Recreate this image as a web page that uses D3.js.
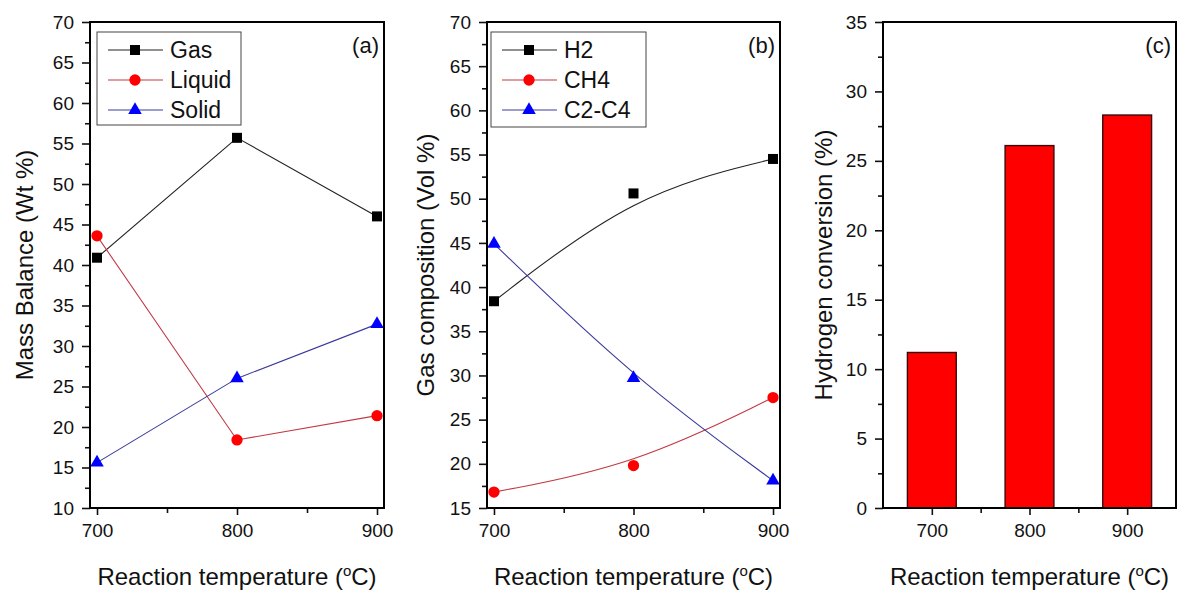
<!DOCTYPE html>
<html>
<head>
<meta charset="utf-8">
<script src="https://cdn.jsdelivr.net/npm/d3@7"></script>
<style>
  html, body { margin: 0; padding: 0; background: #fff; }
  svg text { font-family: "Liberation Sans", Arial, sans-serif; fill: #111; }
</style>
</head>
<body>
<svg id="chart" width="1178" height="593"></svg>
<script>
// ---------------- DATA ----------------
const temperatures = [700, 800, 900];
const gasWt = [40.9, 55.7, 46.0];
const liquidWt = [43.6, 18.4, 21.4];
const solidWt = [15.6, 26.0, 32.7];
const h2Vol = [38.4, 50.6, 54.5];
const ch4Vol = [16.8, 19.8, 27.5];
const c2c4Vol = [44.9, 29.7, 18.1];
const h2Conversion = [11.2, 26.1, 28.3];
const xTickLabels = ["700", "800", "900"];
const xMinorTicks = [750, 850];
const yTicksA = [10, 15, 20, 25, 30, 35, 40, 45, 50, 55, 60, 65, 70];
const yTicksB = [15, 20, 25, 30, 35, 40, 45, 50, 55, 60, 65, 70];
const yTicksC = [0, 5, 10, 15, 20, 25, 30, 35];
const legendA = ["Gas", "Liquid", "Solid"];
const legendB = ["H2", "CH4", "C2-C4"];

// ---------------- DRAW ----------------
const svg = d3.select("#chart");
const FONT_TICK = 19, FONT_TITLE = 24, FONT_LEGEND = 23, FONT_TAG = 22;

const styles = [
  { marker: d3.symbolSquare, size: 100, fill: "#000", line: "#222" },
  { marker: d3.symbolCircle, size: 100, fill: "#ff0000", line: "#c23a44" },
  { marker: d3.symbolTriangle, size: 80, fill: "#0000ff", line: "#3a3a9c" }
];

function minorsOf(ticks) {
  const out = [];
  for (let i = 0; i < ticks.length - 1; i++) out.push((ticks[i] + ticks[i + 1]) / 2);
  return out;
}

function panel(cfg) {
  const g = svg.append("g");
  const x = d3.scaleLinear().domain(cfg.xDomain).range([cfg.left, cfg.right]);
  const y = d3.scaleLinear().domain([cfg.yTicks[0], cfg.yTicks[cfg.yTicks.length - 1]]).range([cfg.bottom, cfg.top]);

  // content first (so frame sits on top)
  const content = g.append("g");

  // y axis major
  const yAx = g.append("g").attr("transform", `translate(${cfg.left},0)`)
    .call(d3.axisLeft(y).tickValues(cfg.yTicks).tickSize(8).tickPadding(8).tickSizeOuter(0).tickFormat(d3.format("d")));
  yAx.select(".domain").remove();
  yAx.selectAll("line").attr("stroke", "#111").attr("stroke-width", 1.6);
  yAx.selectAll("text").style("font-size", FONT_TICK + "px").style("font-family", '"Liberation Sans", Arial, sans-serif').attr("fill", "#111");
  const yMin = g.append("g").attr("transform", `translate(${cfg.left},0)`)
    .call(d3.axisLeft(y).tickValues(minorsOf(cfg.yTicks)).tickSize(5).tickFormat(""));
  yMin.select(".domain").remove();
  yMin.selectAll("line").attr("stroke", "#111").attr("stroke-width", 1.6);

  // x axis major
  const xAx = g.append("g").attr("transform", `translate(0,${cfg.bottom})`)
    .call(d3.axisBottom(x).tickValues(temperatures).tickSize(7).tickPadding(9).tickSizeOuter(0)
      .tickFormat((d, i) => xTickLabels[i]));
  xAx.select(".domain").remove();
  xAx.selectAll("line").attr("stroke", "#111").attr("stroke-width", 1.6);
  xAx.selectAll("text").style("font-size", FONT_TICK + "px").style("font-family", '"Liberation Sans", Arial, sans-serif').attr("fill", "#111");
  const xMin = g.append("g").attr("transform", `translate(0,${cfg.bottom})`)
    .call(d3.axisBottom(x).tickValues(xMinorTicks).tickSize(5).tickFormat(""));
  xMin.select(".domain").remove();
  xMin.selectAll("line").attr("stroke", "#111").attr("stroke-width", 1.6);

  // frame
  g.append("rect").attr("x", cfg.left).attr("y", cfg.top)
    .attr("width", cfg.right - cfg.left).attr("height", cfg.bottom - cfg.top)
    .attr("fill", "none").attr("stroke", "#000").attr("stroke-width", 2);

  // y title
  g.append("text")
    .attr("transform", `translate(${cfg.yTitleX},${(cfg.top + cfg.bottom) / 2}) rotate(-90)`)
    .attr("text-anchor", "middle").style("font-size", FONT_TITLE + "px")
    .text(cfg.yTitle);

  // x title
  const xt = g.append("text")
    .attr("x", (cfg.left + cfg.right) / 2).attr("y", 585)
    .attr("text-anchor", "middle").style("font-size", FONT_TITLE + "px");
  xt.append("tspan").text("Reaction temperature (");
  xt.append("tspan").attr("dy", -9).style("font-size", "15px").text("o");
  xt.append("tspan").attr("dy", 9).text("C)");

  // panel tag
  g.append("text").attr("x", cfg.right - 5).attr("y", 53)
    .attr("text-anchor", "end").style("font-size", FONT_TAG + "px").text(cfg.tag);

  return { g: content, x, y };
}

function drawSeries(p, values, st, curve) {
  const pts = temperatures.map((t, i) => [t, values[i]]);
  const line = d3.line().x(d => p.x(d[0])).y(d => p.y(d[1])).curve(curve);
  p.g.append("path").attr("d", line(pts)).attr("fill", "none")
    .attr("stroke", st.line).attr("stroke-width", 1.1);
  p.g.selectAll(null).data(pts).enter().append("path")
    .attr("transform", d => `translate(${p.x(d[0])},${p.y(d[1])})`)
    .attr("d", d3.symbol().type(st.marker).size(st.size)())
    .attr("fill", st.fill);
}

function drawLegend(p, names, box) {
  const lg = p.g.append("g");
  lg.append("rect").attr("x", box.x).attr("y", box.y).attr("width", box.w).attr("height", box.h)
    .attr("fill", "#fff").attr("stroke", "#444").attr("stroke-width", 1);
  names.forEach((n, i) => {
    const cy = box.y + 18 + i * 30;
    const st = styles[i];
    lg.append("line").attr("x1", box.x + 11).attr("x2", box.x + 66).attr("y1", cy).attr("y2", cy)
      .attr("stroke", st.line).attr("stroke-width", 1.1);
    lg.append("path").attr("transform", `translate(${box.x + 38},${cy})`)
      .attr("d", d3.symbol().type(st.marker).size(st.size)()).attr("fill", st.fill);
    lg.append("text").attr("x", box.x + 73).attr("y", cy).attr("dy", "0.36em")
      .style("font-size", FONT_LEGEND + "px").text(n);
  });
}

// Panel (a)
const pa = panel({ left: 90, right: 384, top: 22, bottom: 508, xDomain: [695, 905],
  yTicks: yTicksA, yTitle: "Mass Balance (Wt %)", yTitleX: 33, tag: "(a)" });
[gasWt, liquidWt, solidWt].forEach((v, i) => drawSeries(pa, v, styles[i], d3.curveLinear));
drawLegend(pa, legendA, { x: 97, y: 32, w: 144, h: 93 });

// Panel (b)
const pb = panel({ left: 487, right: 780, top: 22, bottom: 508, xDomain: [695, 905],
  yTicks: yTicksB, yTitle: "Gas composition (Vol %)", yTitleX: 434, tag: "(b)" });
[h2Vol, ch4Vol, c2c4Vol].forEach((v, i) => drawSeries(pb, v, styles[i], d3.curveBasis));
drawLegend(pb, legendB, { x: 491, y: 32, w: 155, h: 95 });

// Panel (c)
const pc = panel({ left: 883, right: 1176, top: 22, bottom: 508, xDomain: [650, 950],
  yTicks: yTicksC, yTitle: "Hydrogen conversion (%)", yTitleX: 832, tag: "(c)" });
const halfBar = 25;
pc.g.selectAll(null).data(temperatures.map((t, i) => [t, h2Conversion[i]])).enter().append("rect")
  .attr("x", d => pc.x(d[0] - halfBar))
  .attr("width", d => pc.x(d[0] + halfBar) - pc.x(d[0] - halfBar))
  .attr("y", d => pc.y(d[1]))
  .attr("height", d => pc.y(0) - pc.y(d[1]))
  .attr("fill", "#ff0000").attr("stroke", "#3a0a0a").attr("stroke-width", 1.4);
</script>
</body>
</html>
